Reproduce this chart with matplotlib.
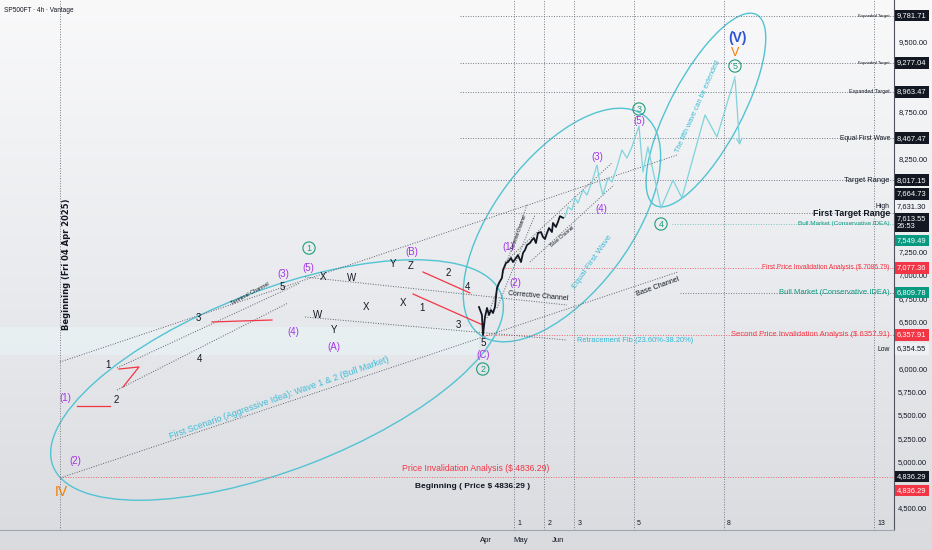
import datetime as dt
import numpy as np
import matplotlib
matplotlib.use("Agg")
import matplotlib.pyplot as plt
import matplotlib.dates as mdates
import matplotlib.transforms as mtransforms
from matplotlib.patches import Ellipse
from matplotlib.colors import LinearSegmentedColormap

plt.rcParams['font.family'] = ['Liberation Sans', 'DejaVu Sans']

BEGIN = dt.date(2025, 4, 4)
BASE = mdates.date2num(BEGIN)

# x values are days after the "Beginning" line, y values are prices
X_RANGE = [-51, 709]
Y_RANGE = [4263.7, 9950.6]

month_ticks = ["2026-04-01", "2026-05-01", "2026-06-01"]
# scale ticks not hidden behind a price box
price_ticks = [4500, 5000, 5250, 5500, 5750, 6000, 6500, 6750, 7000, 7250,
               8250, 8750, 9000, 9500]

fib_base_day = 360.8
fib_unit_days = 25.5
fib_numbers = [1, 2, 3, 5, 8, 13]

# horizontal levels: price, first day of the line
level_prices = [9781.71, 9277.04, 8963.47, 8467.47, 8017.15, 7664.73,
                7549.49, 7077.36, 6809.78, 6357.91, 4836.29]
level_start = [340, 340, 340, 340, 340, 340, 520, 378, 527, 360, 0]
level_kind = ["gray", "gray", "gray", "gray", "gray", "gray",
              "teal", "red", "gray", "red", "red"]

# right scale boxes
box_prices = [9781.71, 9277.04, 8963.47, 8467.47, 8017.15, 7664.73, 7631.30,
              7613.55, 7549.49, 7077.36, 6809.78, 6357.91, 6354.55, 4836.29, 4836.29]
box_kind = ["black", "black", "black", "black", "black", "black", "light",
            "clock", "green", "red", "green", "red", "light", "black", "red"]

# text at right end of levels
edge_prices = [9781.71, 9277.04, 8963.47, 8467.47, 8017.15, 7631.30, 7664.73,
               7549.49, 7077.36, 6809.78, 6357.91, 6354.55]
edge_texts = ["Expanded Target", "Expanded Target", "Expanded Target", "Equal First Wave",
              "Target Range", "High", "First Target Range", "Bull Market (Conservative IDEA)",
              "First Price Invalidation Analysis ($ 7086.79)", "Bull Market (Conservative IDEA)",
              "Second Price Invalidation Analysis ($ 6357.91)", "Low"]

# price path (4h closes)
candle_days = [356.2, 358.7, 359.6, 361.3, 363.0, 364.7, 366.4, 368.1, 369.8, 370.6,
               371.5, 373.2, 375.7, 376.6, 379.1, 380.8, 383.4, 385.1, 387.6, 389.3,
               391.9, 393.6, 395.3, 397.0, 399.5, 401.2, 402.9, 404.6, 406.3, 408.9,
               410.6, 412.3, 414.0, 415.7, 418.2, 419.1, 421.6, 423.3, 425.0, 427.6]
candle_prices = [6656, 6571, 6355, 6549, 6646, 6571, 6624, 6592, 6657, 6764,
                 6860, 6914, 6968, 7053, 7129, 7139, 7182, 7139, 7182, 7214,
                 7139, 7236, 7268, 7322, 7343, 7375, 7397, 7343, 7450, 7461,
                 7408, 7386, 7450, 7504, 7461, 7558, 7515, 7569, 7631, 7613.55]

# projected path
proj_days = [427.6, 429.3, 431.8, 435.2, 437.8, 440.3, 444.6, 448.0, 452.2, 456.5,
             459.0, 461.6, 465.8, 469.2, 473.5, 477.7, 482.0, 486.2, 492.2, 495.6,
             499.8, 510.9, 521.1, 528.7, 548.3, 558.5, 573.8]
proj_prices = [7613.55, 7622, 7729, 7697, 7826, 7772, 7912, 7858, 7998, 8180,
               7987, 7858, 8041, 7998, 8159, 8341, 8255, 8373, 8599, 8105,
               8373, 7719, 8019, 7826, 8717, 8481, 9124]
proj_end = (578.0, 8363)

# gray dotted channel lines: (day0, price0, day1, price1)
channels = [(0, 6066, 524.5, 8287), (0, 4822, 525.3, 7032),
            (48.5, 5766, 193.8, 6699), (48.5, 6002, 204, 6914),
            (208.3, 6978, 431, 6678), (208.3, 6549, 431, 6302),
            (363, 6538, 397, 7751), (371.5, 6646, 403.8, 7644),
            (378.3, 7139, 469.2, 8202), (399.5, 7139, 470.9, 7966)]

red_marks = [([14.45, 42.5], [5594, 5594]),
             ([50.15, 67.15, 53.55], [5991, 6013, 5798]),
             ([129.2, 180.2], [6496, 6517]),
             ([308.6, 348.5], [7032, 6807]),
             ([300.1, 359.6], [6796, 6463])]

purple_labels = [(4.25, 5680, "(1)"), (12.75, 5004, "(2)"), (189.6, 7011, "(3)"),
                 (198.1, 6388, "(4)"), (210.8, 7075, "(5)"), (232.9, 6227, "(A)"),
                 (299.2, 7247, "(B)"), (359.4, 6141, "(C)"), (380.8, 7300, "(1)"),
                 (386.8, 6914, "(2)"), (456.5, 8266, "(3)"), (459.9, 7708, "(4)"),
                 (492.2, 8652, "(5)")]
black_labels = [(47.6, 5659, "2"), (40.8, 6034, "1"), (117.3, 6538, "3"), (119, 6098, "4"),
                (188.7, 6871, "5"), (223.6, 6978, "X"), (248.2, 6968, "W"), (219.3, 6571, "W"),
                (232.9, 6410, "Y"), (260.1, 6657, "X"), (283.1, 7118, "Y"), (298.4, 7096, "Z"),
                (291.6, 6699, "X"), (307.7, 6646, "1"), (329.8, 7021, "2"), (346.8, 6871, "4"),
                (338.3, 6463, "3"), (359.4, 6270, "5")]
circled_labels = [(211.7, 7289, "1"), (359.4, 5991, "2"), (492.2, 8781, "3"),
                  (510.9, 7547, "4"), (573.8, 9242, "5")]

# ellipses: centre day, centre price
ellipse_centres = [(184.5, 5873), (426.7, 7536), (549.1, 8770)]

fib_zone = (6142, 6442)

GRAY = '#787b86'
TEAL = '#52c3d3'
RED = '#f23645'
GREEN = '#089981'
PURPLE = '#a633e8'
CIRC = '#1f9c78'
ORANGE = '#f57c00'
INK = '#131722'

fig = plt.figure(figsize=(9.32, 5.5), dpi=100)
bg = fig.add_axes([0, 0, 1, 1], zorder=-10)
bg.imshow(np.linspace(0, 1, 256)[:, None], aspect='auto',
          cmap=LinearSegmentedColormap.from_list('bg', ['#f9f9fa', '#e9ebee', '#d9dbdf']),
          extent=[0, 1, 0, 1])
bg.axis('off')

ax = fig.add_axes([0, 20 / 550, 894 / 932, 530 / 550])
ax.patch.set_alpha(0)
ax.set_xlim(BASE + X_RANGE[0], BASE + X_RANGE[1])
ax.set_ylim(*Y_RANGE)
for s in ['top', 'left']:
    ax.spines[s].set_visible(False)
ax.spines['right'].set_color('#50535e')
ax.spines['right'].set_linewidth(0.8)
ax.spines['bottom'].set_color('#a3a6af')

ax.yaxis.tick_right()
ax.set_yticks(price_ticks)
ax.yaxis.set_major_formatter(plt.FuncFormatter(lambda v, p: "{:,.2f}".format(v)))
ax.tick_params(axis='y', length=0, labelsize=5.4, colors=INK, pad=3)
ax.set_xticks([mdates.datestr2num(m) for m in month_ticks])
ax.xaxis.set_major_formatter(mdates.DateFormatter('%b'))
ax.tick_params(axis='x', length=0, labelsize=5.6, colors=INK, pad=5)

edge = mtransforms.blended_transform_factory(ax.transAxes, ax.transData)
dots = (0, (1, 1.6))

ax.text(0.004, 0.981, "SP500FT · 4h · Vantage", transform=ax.transAxes,
        fontsize=4.7, color=INK, va='center')

# fib retracement zone
ax.fill_between([BASE + X_RANGE[0], BASE + 356], fib_zone[0], fib_zone[1],
                color='#e9f2f4', alpha=0.75, lw=0, zorder=0)

# vertical lines
ax.axvline(BASE, color=GRAY, ls=dots, lw=0.7)
for n in fib_numbers:
    xd = BASE + fib_base_day + n * fib_unit_days
    ax.axvline(xd, color=GRAY, ls=dots, lw=0.7)
    ax.annotate(str(n), xy=(xd, 0), xycoords=('data', 'axes fraction'), xytext=(2, 3.5),
                textcoords='offset points', fontsize=5, color=INK)

ax.text(BASE + 5.95, 7118, "Beginning (Fri 04 Apr 2025)", rotation=90, ha='center',
        va='center', fontsize=6, fontweight='bold', family='DejaVu Sans', color=INK)

# horizontal levels
level_colors = {"gray": GRAY, "teal": '#7cc6bb', "red": '#f7646f'}
for p, s, k in zip(level_prices, level_start, level_kind):
    ax.plot([BASE + s, BASE + X_RANGE[1]], [p, p], color=level_colors[k], ls=dots, lw=0.7)

# channels
for d0, p0, d1, p1 in channels:
    ax.plot([BASE + d0, BASE + d1], [p0, p1], color='#5d606b', ls=dots, lw=0.7)

for xs, ys in red_marks:
    ax.plot(BASE + np.array(xs), ys, color=RED, lw=0.9)

# ellipses (drawn in screen inches around the data centre)
ell_style = [(4.80, 1.80, 21), (2.74, 1.36, 53), (2.16, 0.72, 62)]
for (cd, cp), (w, h, a) in zip(ellipse_centres, ell_style):
    tr = fig.dpi_scale_trans + mtransforms.ScaledTranslation(BASE + cd, cp, ax.transData)
    ax.add_patch(Ellipse((0, 0), w, h, angle=a, transform=tr, fill=False,
                         ec=TEAL, lw=1.0))

# price path and projection
ax.plot(BASE + np.array(candle_days), candle_prices, color=INK, lw=1.3, zorder=4)
ax.plot(BASE + np.array(proj_days), proj_prices, color='#7fd3dc', lw=0.9)
ax.annotate('', xy=(BASE + proj_end[0], proj_end[1]),
            xytext=(BASE + proj_days[-1], proj_prices[-1]),
            arrowprops=dict(arrowstyle='->', color='#7fd3dc', lw=0.9))

# wave labels
wave_font = dict(ha='center', va='center')
for d, p, t in purple_labels:
    ax.text(BASE + d, p, t, color=PURPLE, fontsize=7, **wave_font)
for d, p, t in black_labels:
    ax.text(BASE + d, p, t, color=INK, fontsize=7, **wave_font)
for d, p, t in circled_labels:
    ax.text(BASE + d, p, t, color=CIRC, fontsize=6.5,
            bbox=dict(boxstyle='circle,pad=0.18', fc='none', ec=CIRC, lw=0.8), **wave_font)
ax.text(BASE + 0.85, 4671, "IV", color=ORANGE, fontsize=10, **wave_font)
ax.text(BASE + 573.8, 9382, "V", color=ORANGE, fontsize=9, **wave_font)
ax.text(BASE + 576.3, 9543, "(V)", color='#2f55d4', fontsize=10, fontweight='bold', **wave_font)

# drawing texts
ax.text(BASE + 186.2, 5680, "First Scenario (Aggressive Idea): Wave 1 & 2 (Bull Market)",
        rotation=19.5, ha='center', va='center', fontsize=6.4, color='#3dbcd6')
ax.text(BASE + 161.5, 6796, "Terminal Channel", rotation=28, ha='center', va='center',
        fontsize=4.0, color=INK)
ax.text(BASE + 390.2, 7461, "Terminal Channel", rotation=70, ha='center', va='center',
        fontsize=3.3, color=INK)
ax.text(BASE + 426.7, 7418, "Base Channel", rotation=40, ha='center', va='center',
        fontsize=3.3, color=INK)
ax.text(BASE + 406.3, 6775, "Corrective Channel", rotation=-5, ha='center', va='center',
        fontsize=5.0, color=INK)
ax.text(BASE + 508.3, 6871, "Base Channel", rotation=20, ha='center', va='center',
        fontsize=5.2, color=INK)
ax.text(BASE + 452.2, 7139, "Equal First Wave", rotation=55, ha='center', va='center',
        fontsize=6, color='#3dbcd6')
ax.text(BASE + 542.3, 8802, "The fifth wave can be extended", rotation=66, ha='center',
        va='center', fontsize=5.2, color='#3dbcd6')
ax.text(BASE + 439.5, 6292, "Retracement Fib (23.60%-38.20%)", ha='left', va='center',
        fontsize=5.4, color='#2fb8d6')
ax.annotate("Price Invalidation Analysis ($ 4836.29)", xy=(BASE + 353.6, 4836.29),
            xytext=(0, 5.8), textcoords='offset points', ha='center', va='center',
            fontsize=6.2, color=RED)
ax.annotate("Beginning ( Price $ 4836.29 )", xy=(BASE + 351, 4836.29),
            xytext=(0, -7.2), textcoords='offset points', ha='center', va='center',
            fontsize=6.0, color=INK, fontweight='bold')

# labels at the right end of levels
edge_style = [(3.1, INK, 'normal'), (3.1, INK, 'normal'), (3.9, INK, 'normal'),
              (4.8, INK, 'normal'), (5.4, INK, 'normal'), (4.9, INK, 'normal'),
              (6.3, INK, 'bold'), (4.6, GREEN, 'normal'), (4.75, RED, 'normal'),
              (5.5, GREEN, 'normal'), (5.5, RED, 'normal'), (4.9, INK, 'normal')]
edge_dy = [0, 0, 0, 0, 0, 7.2, 0, 0, 0, 0, 0, -10]
for p, t, (fs, c, fw), dy in zip(edge_prices, edge_texts, edge_style, edge_dy):
    ax.annotate(t, xy=(1, p), xycoords=edge, xytext=(-3, dy), textcoords='offset points',
                ha='right', va='center', fontsize=fs, color=c, fontweight=fw)

# right scale boxes
box_dy = [0, 0, 0, 0, 0, 13.7, 7.2, -3.6, -12.0, 0, 0, 0, -10, 0, -10]
box_colors = {"black": (INK, 'white'), "clock": (INK, 'white'),
              "light": ('#eef0f4', INK), "green": (GREEN, 'white'),
              "red": (RED, 'white')}
for p, k, dy in zip(box_prices, box_kind, box_dy):
    fc, tc = box_colors[k]
    txt = "{:,.2f}".format(p)
    if k == "clock":
        txt += "\n26:53"
    ax.annotate(txt, xy=(1, p), xycoords=edge, xytext=(2.2, dy), textcoords='offset points',
                ha='left', va='center', fontsize=5.4, color=tc, linespacing=1.15,
                bbox=dict(boxstyle='square,pad=0.3', fc=fc, ec='none'),
                annotation_clip=False, zorder=10)

fig.savefig("out.png", dpi=100)
